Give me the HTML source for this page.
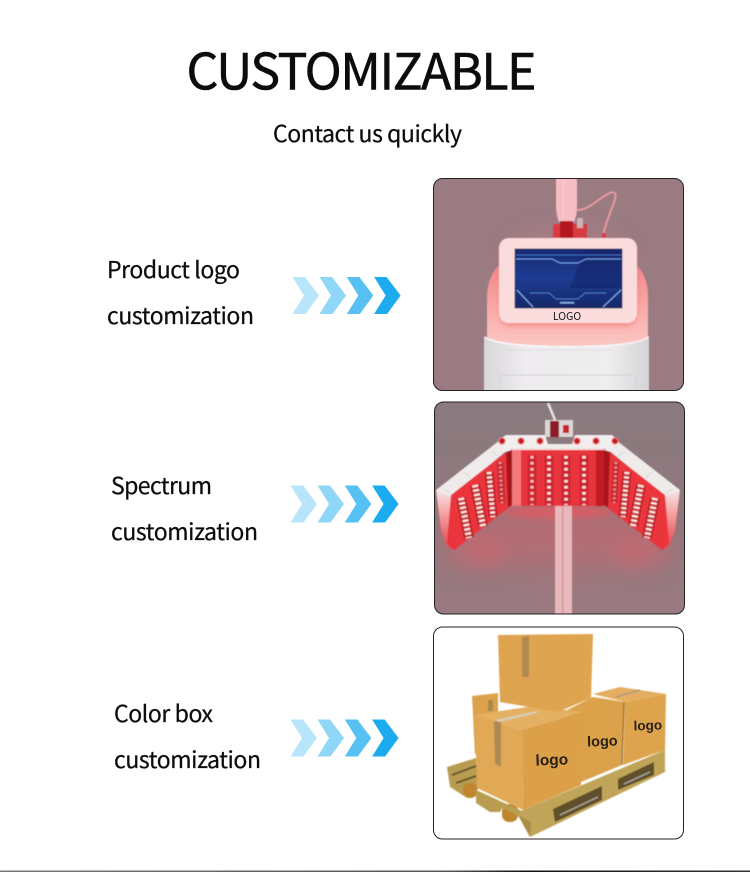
<!DOCTYPE html>
<html lang="en">
<head>
<meta charset="utf-8">
<title>Customizable</title>
<style>
html,body{margin:0;padding:0;background:#fff;width:750px;height:872px;overflow:hidden}
svg{display:block}
.t{font-family:"Noto Sans CJK SC","Liberation Sans",sans-serif;fill:#0c0c0c;stroke:#0c0c0c;stroke-width:.25}
.lg{font-family:"Liberation Sans",sans-serif;font-weight:700;fill:#2a2018}
</style>
</head>
<body>
<svg width="750" height="872" viewBox="0 0 750 872" xmlns="http://www.w3.org/2000/svg">
<defs>
<clipPath id="c1"><rect x="433.500" y="178.500" width="250" height="212" rx="9"/></clipPath>
<clipPath id="c2"><rect x="434.500" y="402" width="250" height="212" rx="9"/></clipPath>
<clipPath id="c3"><rect x="433.500" y="627" width="250" height="212" rx="9"/></clipPath>
<filter id="b03" x="-10%" y="-10%" width="120%" height="120%"><feGaussianBlur stdDeviation="0.3"/></filter>
<filter id="b1" x="-20%" y="-20%" width="140%" height="140%"><feGaussianBlur stdDeviation="0.6"/></filter>
<filter id="b3" x="-30%" y="-30%" width="160%" height="160%"><feGaussianBlur stdDeviation="3"/></filter>
<filter id="b6" x="-40%" y="-60%" width="180%" height="220%"><feGaussianBlur stdDeviation="10"/></filter>
<filter id="b18" x="-60%" y="-60%" width="220%" height="220%"><feGaussianBlur stdDeviation="18"/></filter>
<linearGradient id="pinkb" x1="0" y1="0" x2="0" y2="1"><stop offset="0" stop-color="#f28082"/><stop offset=".45" stop-color="#f9b2ae"/><stop offset=".8" stop-color="#fcd6d2"/><stop offset="1" stop-color="#fbcfcb"/></linearGradient>
<linearGradient id="whiteb" x1="0" y1="0" x2="1" y2="0"><stop offset="0" stop-color="#d8d6d8"/><stop offset=".25" stop-color="#eeecee"/><stop offset=".75" stop-color="#efedef"/><stop offset="1" stop-color="#d6d4d6"/></linearGradient>
<linearGradient id="scr" x1="0" y1="0" x2="0" y2="1"><stop offset="0" stop-color="#172a72"/><stop offset=".5" stop-color="#1f3c92"/><stop offset="1" stop-color="#122768"/></linearGradient>
<linearGradient id="bg2" x1="0" y1="0" x2="0" y2="1"><stop offset="0" stop-color="#8a7a7f"/><stop offset=".5" stop-color="#8f787d"/><stop offset="1" stop-color="#9a7a80"/></linearGradient>
<linearGradient id="sideL" x1="0" y1="0" x2="0" y2="1"><stop offset="0" stop-color="#f4e6e6"/><stop offset=".35" stop-color="#f6a8a8"/><stop offset="1" stop-color="#ea3c44"/></linearGradient>
<linearGradient id="bot" x1="0" y1="0" x2="1" y2="0"><stop offset="0" stop-color="#777"/><stop offset=".6" stop-color="#555"/><stop offset=".7" stop-color="#111"/><stop offset="1" stop-color="#333"/></linearGradient>
<g id="chev"><polygon points="0,-18.500 12.500,-18.500 26.500,0 13,18.500 0,18.500 11.500,0"/></g>
<g id="arrows" filter="url(#b03)">
<use href="#chev" x="0" fill="#b9e5fa"/>
<use href="#chev" x="27" fill="#90d6f7"/>
<use href="#chev" x="54.300" fill="#56c1f2"/>
<use href="#chev" x="81.600" fill="#1eabee"/>
</g>
</defs>

<rect width="750" height="872" fill="#fff"/>

<text class="t" x="186.500" y="89.500" font-size="50" textLength="350" lengthAdjust="spacing" style="stroke-width:.6">CUSTOMIZABLE</text>
<text class="t" x="273" y="142" font-size="23" textLength="189" lengthAdjust="spacing">Contact us quickly</text>

<text class="t" x="107" y="278" font-size="23" textLength="133" lengthAdjust="spacing">Product logo</text>
<text class="t" x="107" y="324" font-size="23" textLength="147" lengthAdjust="spacing">customization</text>
<text class="t" x="111" y="494" font-size="23" textLength="101" lengthAdjust="spacing">Spectrum</text>
<text class="t" x="111" y="540" font-size="23" textLength="147" lengthAdjust="spacing">customization</text>
<text class="t" x="114" y="722" font-size="23" textLength="99" lengthAdjust="spacing">Color box</text>
<text class="t" x="114" y="768" font-size="23" textLength="147" lengthAdjust="spacing">customization</text>

<use href="#arrows" x="292.500" y="295.500"/>
<use href="#arrows" x="290.500" y="504"/>
<use href="#arrows" x="290.500" y="738"/>

<!-- Panel 1 -->
<g clip-path="url(#c1)">
<rect x="433" y="178" width="252" height="214" fill="#9a7b82"/>
<ellipse cx="567" cy="245" rx="60" ry="18" fill="#c98088" opacity=".3" filter="url(#b6)"/>
<g filter="url(#b1)">
<path d="M556 178 H577 V206 Q577 216 574 222 H559 Q556 214 556 206 Z" fill="#f6bdc2"/>
<rect x="563" y="178" width="1" height="40" fill="#fbd5d7"/>
<path d="M577 210 C590 210 598 198 610 193 C618 190 616 198 612 208 C608 218 605 226 603 236" fill="none" stroke="#f09aa0" stroke-width="1.800"/>
<rect x="553" y="224" width="34" height="14" fill="#d93a42"/>
<rect x="560" y="221" width="13" height="17" fill="#b3121a"/>
<rect x="577" y="218" width="6" height="10" fill="#c9b3b6"/>
<rect x="602" y="233" width="4" height="5" fill="#d93a42"/>
<path d="M487 391 L487 296 Q488 268 510 258 L625 258 Q648 268 648 296 L648 338 Q640 345 567 346 Q495 345 487 338 Z" fill="url(#pinkb)"/>
<path d="M484 391 L484 336 Q495 346 567 347 Q640 346 649 336 L649 391 Z" fill="url(#whiteb)"/>
<path d="M485 337 Q495 346 567 346.500 Q640 346 648 337" fill="none" stroke="#fff" stroke-width="1.200"/>
<rect x="500" y="242" width="136" height="84" rx="10" fill="#f26a6c" opacity=".55" filter="url(#b3)"/>
<rect x="499" y="238" width="138" height="85" rx="10" fill="#fbdcdc"/>
<rect x="515" y="249" width="107" height="59" fill="url(#scr)" stroke="#0e1c44" stroke-width=".6"/>
<polygon points="584,249 622,249 622,288 570,288" fill="#0f2468" opacity=".55"/>
<path d="M516 255 H622" fill="none" stroke="#4f7fd0" stroke-width=".8"/>
<path d="M516 259 H552 L560 263 H578 L586 259 H621" fill="none" stroke="#6f9fe6" stroke-width="1"/>
<path d="M530 293 H549 L556 299 H578 L585 293 H606" fill="none" stroke="#4b78c8" stroke-width="1"/>
<path d="M517 290 L533 307 M621 290 L603 307" stroke="#8ab6ee" stroke-width="1"/>
<rect x="560" y="302" width="14" height="1.500" fill="#8ab6ee"/>
<path d="M500 391 V380 Q500 375 505 375 H630 Q636 375 636 380 V391" fill="none" stroke="#d2d0d3" stroke-width="1"/>
<path d="M505 350 H612" stroke="#d9d7da" stroke-width=".8"/>
</g>
<text x="567" y="320" font-family="'Noto Sans CJK SC','Liberation Sans',sans-serif" font-size="10.500" fill="#15151a" text-anchor="middle">LOGO</text>
</g>
<rect x="433.500" y="178.500" width="250" height="212" rx="9" fill="none" stroke="#222" stroke-width="1"/>

<!-- Panel 2 -->
<g clip-path="url(#c2)">
<rect x="434" y="402" width="252" height="214" fill="url(#bg2)"/>
<ellipse cx="558" cy="535" rx="115" ry="32" fill="#d8606a" opacity=".5" filter="url(#b18)"/>
<ellipse cx="478" cy="552" rx="30" ry="14" fill="#e8606a" opacity=".4" filter="url(#b6)"/>
<ellipse cx="640" cy="552" rx="30" ry="14" fill="#e8606a" opacity=".4" filter="url(#b6)"/>
<ellipse cx="558" cy="512" rx="55" ry="7" fill="#f0555e" opacity=".6" filter="url(#b3)"/>
<g filter="url(#b1)">
<rect x="555" y="506" width="17" height="108" fill="#e8b8bc"/>
<rect x="562" y="506" width="1.500" height="108" fill="#d69aa0"/>
<path d="M548 403 L555 420" stroke="#e8e4e4" stroke-width="2.500"/>
<rect x="545" y="420" width="28" height="17" fill="#dcd6d6"/>
<rect x="550" y="421" width="9" height="16" fill="#8e1e26"/>
<rect x="563" y="425" width="6" height="8" fill="#c8232c"/>

<!-- left wing -->
<polygon points="436,490 451,495 454,550 447,546 441,530" fill="url(#sideL)"/>
<polygon points="436,490 500,440 512,450 505,452 451,497" fill="#f0ebeb"/>
<polygon points="451,495 506,452 512,450 512,505 454,550 447,543" fill="#ea343d"/>
<g fill="none" stroke="#c4202a">
<path d="M461 498 L469 538" stroke-width="10"/>
<path d="M475 485 L483 526" stroke-width="10"/>
<path d="M489 472 L493 517" stroke-width="9"/>
<path d="M500 462 L502 503" stroke-width="6"/>
</g>
<path d="M506 452 L512 450 V505 L508 507 Z" fill="#a5141c"/>
<!-- right wing -->
<polygon points="680,490 665,495 662,550 669,546 675,530" fill="url(#sideL)"/>
<polygon points="680,490 616,440 604,450 611,452 665,497" fill="#f0ebeb"/>
<polygon points="665,495 610,452 604,450 604,505 662,550 669,543" fill="#ea343d"/>
<g fill="none" stroke="#c4202a">
<path d="M655 498 L647 538" stroke-width="10"/>
<path d="M641 485 L633 526" stroke-width="10"/>
<path d="M627 472 L623 517" stroke-width="9"/>
<path d="M616 462 L614 503" stroke-width="6"/>
</g>
<path d="M610 452 L604 450 V505 L608 507 Z" fill="#a5141c"/>
<!-- centre -->
<rect x="512" y="449" width="92" height="57" fill="#e8343d"/>
<rect x="512" y="449" width="9" height="57" fill="#f2787c"/>
<rect x="596" y="449" width="8" height="57" fill="#c21a24"/>
<g fill="none" stroke="#d02730" stroke-width="9">
<path d="M532 455 V505 M549 455 V505 M566 455 V505 M584 455 V505"/>
</g>
<rect x="512" y="447" width="92" height="3" fill="#f4dcdc"/>
<!-- LEDs -->
<g fill="none" stroke="#ffe9e2" stroke-dasharray="2.200 2.200">
<path d="M461 498 L469 538" stroke-width="6"/>
<path d="M475 485 L483 526" stroke-width="6"/>
<path d="M489 472 L493 517" stroke-width="5"/>
<path d="M500 462 L502 503" stroke-width="3" opacity=".55"/>
<path d="M532 456 V505" stroke-width="3" opacity=".8" stroke-dasharray="2.500 3.500"/>
<path d="M549 456 V505" stroke-width="3.500" stroke-dasharray="2.500 3.500"/>
<path d="M566 456 V505" stroke-width="3.500" stroke-dasharray="2.500 3.500"/>
<path d="M584 456 V505" stroke-width="3.500" stroke-dasharray="2.500 3.500"/>
<path d="M616 462 L614 503" stroke-width="3" opacity=".55"/>
<path d="M627 472 L623 517" stroke-width="5"/>
<path d="M641 485 L633 526" stroke-width="6"/>
<path d="M655 498 L647 538" stroke-width="6"/>
</g>
<!-- top bar -->
<polygon points="500,439 506,435 545,435 548,444 572,444 575,435 612,435 618,440 610,450 602,448 514,448 506,452" fill="#f2eeee"/>
<g fill="none" stroke="#d3cdcd" stroke-width=".8">
<path d="M443 490 Q448 490 450 494 M463 473 Q468 473 470 478 M491 452 Q495 452 497 456"/>
<path d="M673 490 Q668 490 666 494 M653 473 Q648 473 646 478 M625 452 Q621 452 619 456"/>
</g>
<g fill="#c4161f" stroke="#f38a8e" stroke-width="1">
<circle cx="502" cy="441" r="3.200"/><circle cx="521" cy="441" r="3.200"/><circle cx="540" cy="441" r="3.200"/>
<circle cx="577" cy="441" r="3.200"/><circle cx="596" cy="441" r="3.200"/><circle cx="615" cy="441" r="3.200"/>
</g>
</g>
</g>
<rect x="434.500" y="402" width="250" height="212" rx="9" fill="none" stroke="#222" stroke-width="1"/>

<!-- Panel 3 -->
<g clip-path="url(#c3)">
<rect x="433" y="627" width="252" height="214" fill="#fff"/>
<g filter="url(#b1)">
<!-- pallet back deck -->
<polygon points="447,767 476,758 478,790 470,786 464,796 450,787" fill="#b89c50"/>
<path d="M452 775 L476 766 M456 783 L476 776" stroke="#5e5029" stroke-width="1.800"/>
<rect x="463" y="783" width="14" height="15" rx="6" fill="#c0862f"/>
<rect x="502" y="804" width="16" height="18" rx="7" fill="#c0862f"/>
<polygon points="476,790 522,811 518,816 502,808 500,812 490,812 476,803" fill="#b89c50"/>
<!-- front rail -->
<polygon points="518,815 523,810 665,750 665,772 530,837" fill="#c0a458"/>
<polygon points="518,815 531,822 530,837" fill="#a98e45"/>
<polygon points="553,809 602,786 602,800 555,822" fill="#5e5029"/>
<polygon points="618,779 654,762 654,775 618,790" fill="#5e5029"/>
<path d="M560 815 L598 797 M624 784 L650 772" stroke="#a9a9a0" stroke-width="1.500"/>
<!-- back left box -->
<polygon points="472,696 498,693 498,712 475,755" fill="#dca24b"/>
<rect x="488" y="700" width="5" height="11" fill="#a88850"/>
<!-- right box -->
<polygon points="593,694 620,687 666,694 625,702" fill="#e4ae60"/>
<polygon points="625,702 666,694 665,750 623,765" fill="#dea44e"/>
<path d="M616 697 L640 690" stroke="#a99a80" stroke-width="1.500"/>
<!-- middle box -->
<polygon points="567,710 593,697 625,702 622,765 581,782 568,750" fill="#dba24c"/>
<path d="M624 702 L622 765" stroke="#7d5c28" stroke-width="1"/>
<!-- front box -->
<polygon points="475,715 533,706 582,712 522,730" fill="#e4b062"/>
<polygon points="475,715 522,730 523,810 477,788" fill="#e1a956"/>
<polygon points="522,730 582,712 581,785 523,810" fill="#dca04a"/>
<polygon points="494,721 501,722 501,767 495,764" fill="#ad8a52"/>
<polygon points="495,720 537,711 537,713 499,722" fill="#d8cdb8"/>
<!-- top box -->
<polygon points="498,635 593,634 591,698 558,712 500,702" fill="#dfa44f"/>
<polygon points="522,637 529,636 529,677 522,677" fill="#af8a52"/>
</g>
<text class="lg" x="552" y="765" font-size="15.500" text-anchor="middle" transform="rotate(-2 552 765)">logo</text>
<text class="lg" x="602.500" y="746" font-size="14.500" text-anchor="middle" transform="rotate(-2 602 746)">logo</text>
<text class="lg" x="648" y="730" font-size="13.500" text-anchor="middle" transform="rotate(-2 648 730)">logo</text>
</g>
<rect x="433.500" y="627" width="250" height="212" rx="9" fill="none" stroke="#222" stroke-width="1"/>

<rect x="0" y="870.500" width="750" height="1.500" fill="url(#bot)"/>
</svg>
</body>
</html>
